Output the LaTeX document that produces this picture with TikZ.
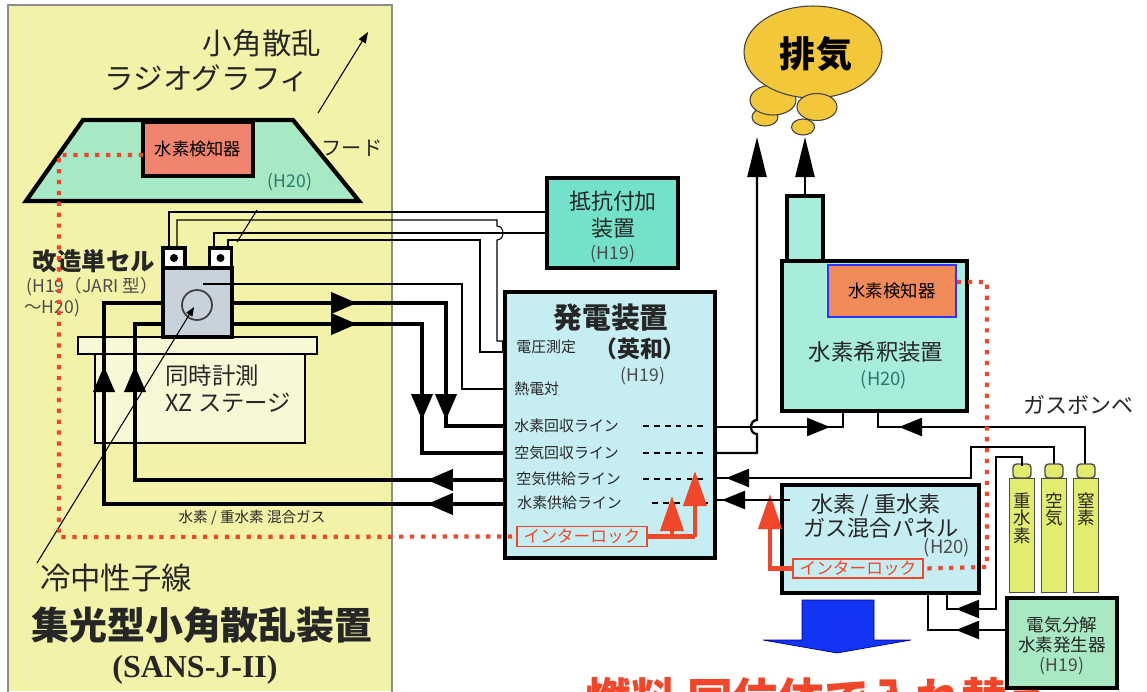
\documentclass[tikz,border=0pt]{standalone}
\usepackage{fontspec}
\setmainfont{Noto Sans CJK JP}
\newfontfamily\romanbold{Liberation Serif}
\usetikzlibrary{arrows.meta,positioning}

\definecolor{paneyellow}{HTML}{F2F3A8}
\definecolor{hoodgreen}{HTML}{A6E9C4}
\definecolor{sensorred}{HTML}{F0846E}
\definecolor{sensororange}{HTML}{F08A58}
\definecolor{cellgray}{HTML}{C8D2DA}
\definecolor{stagecream}{HTML}{F8F8D6}
\definecolor{genblue}{HTML}{C6EEF2}
\definecolor{resistgreen}{HTML}{74E2CA}
\definecolor{dilutegreen}{HTML}{A8ECDC}
\definecolor{elecgreen}{HTML}{A8E8C2}
\definecolor{bottleyellow}{HTML}{E4EC70}
\definecolor{exhaustgold}{HTML}{F2C73A}
\definecolor{lockred}{HTML}{F2462A}
\definecolor{flowblue}{HTML}{1434F4}
\definecolor{yeartext}{HTML}{2C786C}

\newcommand\fsz[1]{\fontsize{#1}{#1}\selectfont}

\tikzset{
  unit/.style={draw, line width=2.6pt, inner sep=0pt},
  pipe/.style={line width=2.3pt},
  gasline/.style={line width=1.3pt},
  wire/.style={line width=0.6pt},
  lockline/.style={lockred, line width=2.3pt},
  alarm/.style={lockred, line width=2.4pt, dash pattern=on 2.4pt off 3.8pt},
  bigtip/.style={-{Triangle[length=0.52cm,width=0.42cm]}},
  smalltip/.style={-{Triangle[length=0.46cm,width=0.36cm]}},
  ventip/.style={-{Triangle[length=0.8cm,width=0.38cm]}},
  redtip/.style={-{Triangle[length=0.7cm,width=0.46cm]}},
  txt/.style={inner sep=0pt, text=black!85},
  linename/.style={txt, anchor=west, font=\fsz{8.5}},
  lockbox/.style={draw=lockred, line width=1pt, fill=genblue, inner sep=0pt,
    text=lockred, font=\fsz{9.5}, minimum width=2.6cm, minimum height=0.4cm},
  bottle/.style={draw=black!70, line width=0.8pt, fill=bottleyellow,
    minimum width=0.5cm, minimum height=2.28cm, inner sep=0pt},
}

\begin{document}
\begin{tikzpicture}[x=0.02cm, y=-0.02cm]
\useasboundingbox (0,0) rectangle (1147,691);
\fill[white] (0,0) rectangle (1147,691);

% SANS-J-II side
\fill[paneyellow] (8,5) rectangle (392,691);
\draw[black!45, line width=0.8pt] (8,695) -- (8,5) -- (392,5) -- (392,695);

% hood with its sensor
\draw[fill=hoodgreen, line width=2.4pt] (83,120) -- (293,120) -- (359,201) -- (26,201) -- cycle;
\node[unit, line width=1.8pt, fill=sensorred, minimum width=2.2cm, minimum height=1.08cm,
  font=\fsz{9.8}] (hoodsensor) at (198,149) {水素検知器};
\node[txt, font=\fsz{11.5}] (hoodname) at (352,148) {フード};
\node[txt, text=yeartext, font=\fsz{10}] (hoodyear) at (290,182) {(H20)};

\node[txt, font=\fsz{16.8}] (sastitle) at (262,43) {小角散乱};
\node[txt, font=\fsz{16.8}] (radtitle) at (207,78) {ラジオグラフィ};

% XZ stage
\node[draw, line width=1pt, fill=stagecream, minimum width=4.2cm, minimum height=1.78cm] (stage) at (200,398.5) {};
\node[unit, line width=1.6pt, fill=stagecream, minimum width=4.78cm, minimum height=0.34cm] (plate) at (197.5,345.5) {};
\node[txt, anchor=west, font=\fsz{13.3}] (stagename) at (165,376) {同時計測};
\node[txt, anchor=west, font=\fsz{13.3}] (stagexz) at (165,403) {XZ ステージ};

% cell and terminals
\node[unit, line width=2.2pt, fill=cellgray, minimum width=1.38cm, minimum height=1.38cm] (cell) at (197.5,302.5) {};
\draw[line width=1pt, black!75] (197,305) circle[radius=0.3cm];
\node[unit, line width=2pt, fill=white, minimum width=0.44cm, minimum height=0.4cm] (terma) at (174,258) {};
\node[unit, line width=2pt, fill=white, minimum width=0.44cm, minimum height=0.4cm] (termb) at (220.5,258) {};
\fill (terma) circle[radius=0.08cm];
\fill (termb) circle[radius=0.08cm];

\node[txt, font=\bfseries\fsz{13.9}] (cellname) at (94,261) {改造単セル};
\node[txt, anchor=west, text=black!70, font=\fsz{10}] (cellyear) at (26,287) {(H19（JARI 型）};
\node[txt, anchor=west, text=black!70, font=\fsz{10}] (cellyearb) at (24,308) {\char"FF5E H20)};

% signal wires
\draw[wire] (169,248) -- (169,212) -- (547,212);
\draw[wire] (177,248) -- (177,220) -- (497,220) -- (497,226)
  .. controls (505,226) and (505,240) .. (497,240) -- (497,341) -- (503,341);
\draw[wire] (214,248) -- (214,233) -- (547,233);
\draw[wire] (228,248) -- (228,240) -- (480,240) -- (480,352) -- (503,352);
\draw[wire] (503,341) -- (503,352);
\draw[wire] (203,284) -- (462,284) -- (462,389) -- (513,389);

% gas pipes between cell and generator
\draw[pipe] (505,504) -- (104,504) -- (104,303) -- (cell.west |- 0,303);
\draw[pipe] (505,480) -- (135,480) -- (135,324) -- (cell.west |- 0,324);
\draw[pipe] (cell.east |- 0,303) -- (446,303) -- (446,426) -- (505,426);
\draw[pipe] (cell.east |- 0,324) -- (422,324) -- (422,453) -- (505,453);
\draw[pipe,bigtip] (330,303) -- (357,303);
\draw[pipe,bigtip] (330,324) -- (357,324);
\draw[pipe,bigtip] (446,392) -- (446,420);
\draw[pipe,bigtip] (422,392) -- (422,420);
\draw[pipe,bigtip] (455,480) -- (427,480);
\draw[pipe,bigtip] (455,504) -- (427,504);
\draw[pipe,bigtip] (104,395) -- (104,366);
\draw[pipe,bigtip] (135,395) -- (135,366);
\node[txt, font=\fsz{8.3}] (mixgas) at (252,518) {水素 / 重水素 混合ガス};

% neutron beam through the cell
\draw[wire, -{Triangle[length=0.18cm,width=0.14cm]}] (37,563) -- (194,307);
\draw[wire] (237,242) -- (257,210);
\draw[wire, -{Triangle[length=0.22cm,width=0.16cm]}] (318,113) -- (368,32);

\node[txt, font=\fsz{17.3}] (coldbeam) at (116,578) {冷中性子線};
\node[txt, font=\bfseries\fsz{21.6}] (sansname) at (202,625) {集光型小角散乱装置};
\node[txt, font=\romanbold\bfseries\fsz{18.2}] (sanscode) at (195,670) {(SANS-J-II)};

% resistor unit
\node[unit, fill=resistgreen, minimum width=2.62cm, minimum height=1.8cm] (resist) at (612.5,223) {};
\node[txt, font=\fsz{12.5}] (resistname) at (613,201) {抵抗付加};
\node[txt, font=\fsz{12.5}] (resistnameb) at (613,228) {装置};
\node[txt, text=black!70, font=\fsz{10}] (resistyear) at (613,254) {(H19)};

% generator
\node[unit, line width=2.8pt, fill=genblue, minimum width=4.2cm, minimum height=5.32cm] (gen) at (610,425) {};
\node[txt, font=\bfseries\fsz{16.4}] (genname) at (611,318) {発電装置};
\node[txt, font=\bfseries\fsz{13}] (genmaker) at (640,349) {（英和）};
\node[txt, text=black!70, font=\fsz{10}] (genyear) at (643,376) {(H19)};
\node[linename] (voltlab) at (516,347) {電圧測定};
\node[linename] (thermolab) at (514,389) {熱電対};
\node[linename] (h2ret) at (514,426) {水素回収ライン};
\node[linename] (airret) at (514,453) {空気回収ライン};
\node[linename] (airsup) at (516,479) {空気供給ライン};
\node[linename] (h2sup) at (517,503) {水素供給ライン};
\foreach \y/\xs in {426/643, 453/643, 479/643, 503/652}
  \draw[wire, dash pattern=on 3.3pt off 2.9pt] (\xs,\y) -- (708,\y);
\node[lockbox] (genlock) at (582,536.5) {インターロック};
\draw[lockline] (genlock.east) -- (695,536.5);
\draw[lockline, redtip] (695,536.5) -- (695,471);
\draw[lockline, redtip] (672,536.5) -- (672,496);

% dilution unit with chimney
\node[unit, fill=dilutegreen, minimum width=0.72cm, minimum height=1.3cm] (chimney) at (805,228.5) {};
\node[unit, line width=2.8pt, fill=dilutegreen, minimum width=3.7cm, minimum height=3cm] (dilute) at (874.5,336) {};
\node[draw=blue!80, line width=1pt, fill=sensororange, minimum width=2.56cm, minimum height=1.04cm,
  inner sep=0pt, font=\fsz{9.9}] (dilsensor) at (892,291) {水素検知器};
\node[txt, font=\fsz{12.8}] (dilname) at (876,352) {水素希釈装置};
\node[txt, text=yeartext, font=\fsz{10.5}] (dilyear) at (884,380) {(H20)};

% exhaust cloud
\begin{scope}[fill=exhaustgold, draw=black!75, line width=0.6pt]
  \filldraw (765,117) ellipse[x radius=0.26cm, y radius=0.18cm];
  \filldraw (773,100) ellipse[x radius=0.46cm, y radius=0.3cm];
  \filldraw (813,52) ellipse[x radius=1.38cm, y radius=0.92cm];
  \filldraw (817,107) ellipse[x radius=0.4cm, y radius=0.27cm];
  \filldraw (803,127) ellipse[x radius=0.23cm, y radius=0.16cm];
\end{scope}
\node[txt, text=black, font=\bfseries\fsz{20.5}] (exhaust) at (816,54) {排気};
\draw[gasline, ventip] (chimney.north) -- (805,137);

% lines on the right of the generator
\draw[gasline] (715,427) -- (843,427) -- (843,411);
\draw[gasline, smalltip] (804,427) -- (830,427);
\draw[gasline, ventip] (715,453) -- (757,453) -- (757,434)
  .. controls (749,434) and (749,420) .. (757,420) -- (757,137);
\draw[gasline] (878,411) -- (878,427) -- (1085,427) -- (1085,466);
\draw[gasline, smalltip] (925,427) -- (899,427);
\draw[gasline] (715,478) -- (971,478) -- (971,447) -- (1054,447) -- (1054,466);
\draw[gasline, smalltip] (753,478) -- (726,478);

% gas bottles
\node[txt, anchor=west, font=\fsz{12.5}] (bottlename) at (1023,405) {ガスボンベ};
\foreach \bx/\bname/\btext in {1022/dtwo/{重\\水\\素}, 1054/air/{空\\気}, 1086/ntwo/{窒\\素}} {
  \draw[black!70, line width=0.8pt, fill=bottleyellow, rounded corners=2pt] (\bx-9,478) rectangle (\bx+9,464);
  \node[bottle, anchor=north] (\bname) at (\bx,478) {};
  \node[txt, anchor=north, align=center, font=\fsz{10}] at (\bx,492) {\btext};
}

% mixing panel
\node[unit, line width=2.8pt, fill=genblue, minimum width=3.94cm, minimum height=2.16cm] (mix) at (880.5,539) {};
\node[txt, font=\fsz{12.6}] (mixname) at (876,505) {水素 / 重水素};
\node[txt, font=\fsz{12.6}] (mixnameb) at (881,528) {ガス混合パネル};
\node[txt, text=black!70, font=\fsz{10.5}] (mixyear) at (947,548) {(H20)};
\node[lockbox, minimum height=0.38cm] (mixlock) at (858,568.5) {インターロック};
\draw[lockline, redtip] (mixlock.west) -- (770,568.5) -- (770,494);
\draw[gasline] (790,500) -- (715,500);
\draw[gasline, smalltip] (748,500) -- (722,500);

% fuel exchange
\filldraw[fill=flowblue, draw=blue!60!black, line width=0.4pt] (802,600) -- (874,600) -- (874,640)
  -- (911,640) -- (837,653) -- (763,640) -- (802,640) -- cycle;
\node[anchor=base west, inner sep=0pt, text=lockred, font=\bfseries\fsz{26}] (fuelswap) at (585,716) {燃料 同位体で入れ替え};

% electrolysis unit
\node[unit, fill=elecgreen, minimum width=2.2cm, minimum height=1.8cm] (elec) at (1062,643) {};
\node[txt, font=\fsz{10}] (elecname) at (1062,625) {電気分解};
\node[txt, font=\fsz{10}] (elecnameb) at (1062,645) {水素発生器};
\node[txt, text=black!70, font=\fsz{10}] (elecyear) at (1062,666) {(H19)};

\draw[gasline] (1022,466) -- (1022,457) -- (996,457) -- (996,609) -- (947,609) -- (947,593);
\draw[gasline, smalltip] (982,609) -- (956,609);
\draw[gasline] (elec.west |- 0,630) -- (928,630) -- (928,593);
\draw[gasline, smalltip] (982,630) -- (956,630);

% hydrogen alarm lines
\draw[alarm] (143,155) -- (59,155) -- (59,537) -- (genlock.west);
\draw[alarm] (957,282) -- (987,282) -- (987,567) -- (mixlock.east);
\end{tikzpicture}
\end{document}
